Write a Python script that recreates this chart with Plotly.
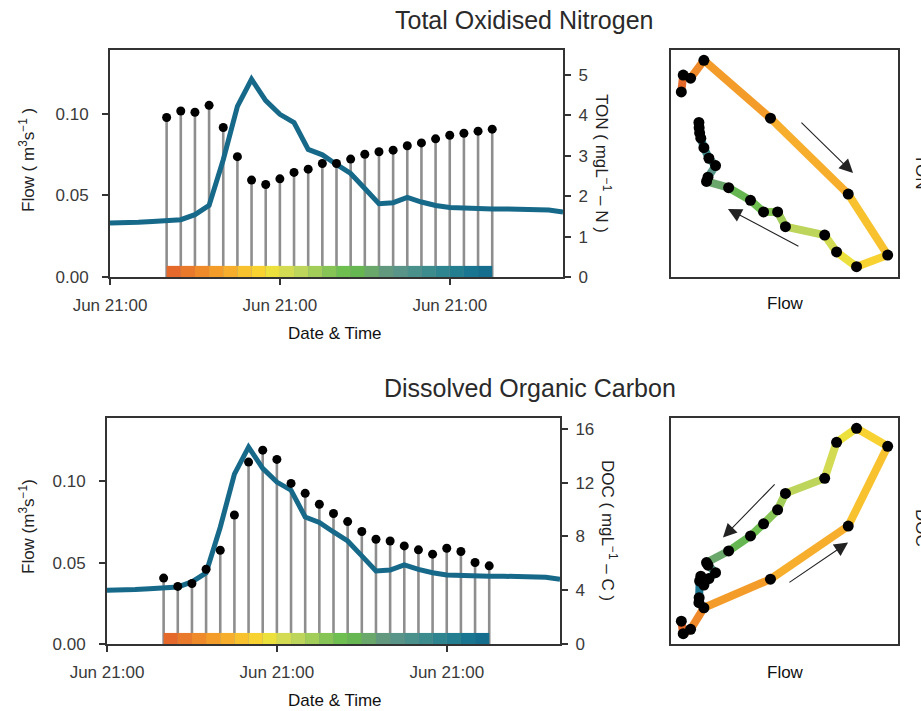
import numpy as np
import pandas as pd
import plotly.graph_objects as go

# ---------------- data ----------------
start = pd.Timestamp("2017-06-14 21:00")
flow_hours = list(range(0, 66, 2))
flow_vals = [0.0330, 0.0330, 0.0335, 0.0340, 0.0343, 0.0351, 0.0382, 0.0438, 0.0718,
             0.1045, 0.1211, 0.1080, 0.0996, 0.0946, 0.0781, 0.0748, 0.0689, 0.0634,
             0.0542, 0.0449, 0.0455, 0.0487, 0.0459, 0.0438, 0.0425, 0.0420, 0.0418,
             0.0417, 0.0417, 0.0417, 0.0416, 0.0410, 0.0398]
sample_hours = list(range(8, 56, 2))
ton_vals = [3.95, 4.11, 4.08, 4.25, 3.70, 2.98, 2.40, 2.29, 2.43, 2.59, 2.67, 2.81,
            2.81, 2.92, 3.04, 3.10, 3.14, 3.25, 3.32, 3.42, 3.51, 3.56, 3.61, 3.66]
doc_vals = [4.90, 4.28, 4.50, 5.56, 6.97, 9.59, 13.52, 14.41, 13.72, 11.94, 11.20, 10.39,
            9.70, 9.10, 8.36, 7.79, 7.66, 7.29, 7.00, 6.68, 7.12, 6.88, 6.06, 5.81]
flow_ticks = [0.0, 0.05, 0.10]
ton_ticks = [0, 1, 2, 3, 4, 5]
doc_ticks = [0, 4, 8, 12, 16]

# segment colours (one per interval between consecutive samples)
seg_cols = ["#E4692A", "#EA7A2B", "#EF8A2A", "#F39C2A", "#F7AE2C", "#F8C22F", "#F7D231",
            "#ECE13C", "#D3DB52", "#BCD55A", "#A2CD58", "#86C555", "#6FBE50", "#66B652",
            "#69A76A", "#62987E", "#589588", "#4A918B", "#3C8B8D", "#2E858F", "#237E8F",
            "#1A7690", "#156E8E"]

# ---------------- derived ----------------
flow_t = [start + pd.Timedelta(hours=h) for h in flow_hours]
samp_t = [start + pd.Timedelta(hours=h) for h in sample_hours]
flow_lookup = dict(zip(flow_hours, flow_vals))
samp_flow = [flow_lookup[h] for h in sample_hours]
x_range = [flow_t[0], flow_t[-1]]

nseg = len(samp_t) - 1
seg_mid = [samp_t[k] + (samp_t[k + 1] - samp_t[k]) / 2 for k in range(nseg)]
seg_w = [(samp_t[k + 1] - samp_t[k]).total_seconds() * 1000 for k in range(nseg)]

FONT = "Liberation Sans, Arial, sans-serif"
W, H = 921, 711
FLOW_COL = "#17698A"
STEM_COL = "#8E8E8E"
AX_COL = "#333333"
TICK_FONT = dict(family=FONT, size=17, color="#3a3a3a")
BAR_H = 0.0068


def px(x):
    return x / W


def py(y):
    return 1 - y / H


fig = go.Figure()


def stems(xs, vals):
    xx, yy = [], []
    for t, v in zip(xs, vals):
        xx += [t, t, None]
        yy += [0, v, None]
    return xx, yy


def add_ts(xa, ybase, yflow, ydot, conc):
    sx, sy = stems(samp_t, conc)
    fig.add_trace(go.Scatter(x=sx, y=sy, mode="lines", xaxis=xa, yaxis=ybase,
                             line=dict(color=STEM_COL, width=2.6), showlegend=False, hoverinfo="skip"))
    fig.add_trace(go.Bar(x=seg_mid, y=[BAR_H] * nseg, width=seg_w, base=0, xaxis=xa, yaxis=yflow,
                         marker=dict(color=seg_cols, line=dict(width=0)), showlegend=False))
    fig.add_trace(go.Scatter(x=flow_t, y=flow_vals, mode="lines", xaxis=xa, yaxis=yflow,
                             line=dict(color=FLOW_COL, width=5), showlegend=False))
    fig.add_trace(go.Scatter(x=samp_t, y=conc, mode="markers", xaxis=xa, yaxis=ydot,
                             marker=dict(color="black", size=9), showlegend=False))


def add_hyst(xa, ya, conc):
    for k in range(nseg):
        fig.add_trace(go.Scatter(x=samp_flow[k:k + 2], y=conc[k:k + 2], mode="lines",
                                 xaxis=xa, yaxis=ya, line=dict(color=seg_cols[k], width=8),
                                 showlegend=False))
    fig.add_trace(go.Scatter(x=samp_flow, y=conc, mode="markers", xaxis=xa, yaxis=ya,
                             marker=dict(color="black", size=11), showlegend=False))


add_ts("x", "y", "y2", "y3", ton_vals)
add_ts("x2", "y4", "y5", "y6", doc_vals)
add_hyst("x3", "y7", ton_vals)
add_hyst("x4", "y8", doc_vals)


def pad(vals, f=0.05):
    lo, hi = min(vals), max(vals)
    d = (hi - lo) * f
    return [lo - d, hi + d]


# domains
top_y = [py(277), py(50)]
bot_y = [py(644), py(418)]
ts_top_x = [px(110), px(563)]
ts_bot_x = [px(107), px(560)]
hy_x = [px(671), px(898)]

xdate = dict(type="date", range=x_range, tickformat="%b %H:%M", dtick=86400000, tick0=start,
             ticks="outside", ticklen=6, tickwidth=2, tickcolor=AX_COL, showline=True, mirror=True,
             linecolor=AX_COL, linewidth=2, showgrid=False, zeroline=False, tickfont=TICK_FONT,
             ticklabelstandoff=6, automargin=False)
yline = dict(ticks="outside", ticklen=6, tickwidth=2, tickcolor=AX_COL, showline=True,
             linecolor=AX_COL, linewidth=2, showgrid=False, zeroline=False, tickfont=TICK_FONT,
             automargin=False)
hy = dict(showline=True, mirror=True, linecolor=AX_COL, linewidth=2, showgrid=False,
          zeroline=False, showticklabels=False, ticks="", automargin=False)

ton_rng = [0, 5.62]
doc_rng = [0, 16.8]
flow_rng = [0, 0.139]

fig.update_layout(
    template="none",
    width=W, height=H, margin=dict(l=0, r=0, t=0, b=0, pad=0), autosize=False,
    paper_bgcolor="white", plot_bgcolor="white", showlegend=False, barmode="overlay",
    font=dict(family=FONT, color="#333"),
    xaxis=dict(domain=ts_top_x, anchor="y", **xdate),
    xaxis2=dict(domain=ts_bot_x, anchor="y4", **xdate),
    yaxis=dict(domain=top_y, anchor="x", side="right", range=ton_rng, tickvals=ton_ticks,
               ticklabelstandoff=4, **yline),
    yaxis2=dict(overlaying="y", anchor="x", side="left", range=flow_rng, tickvals=flow_ticks,
                tickformat=".2f", ticklabelstandoff=10, **yline),
    yaxis3=dict(overlaying="y", anchor="x", side="right", range=ton_rng, visible=False),
    yaxis4=dict(domain=bot_y, anchor="x2", side="right", range=doc_rng, tickvals=doc_ticks,
                ticklabelstandoff=4, **yline),
    yaxis5=dict(overlaying="y4", anchor="x2", side="left", range=flow_rng, tickvals=flow_ticks,
                tickformat=".2f", ticklabelstandoff=10, **yline),
    yaxis6=dict(overlaying="y4", anchor="x2", side="right", range=doc_rng, visible=False),
    xaxis3=dict(domain=hy_x, anchor="y7", range=pad(samp_flow), **hy),
    yaxis7=dict(domain=top_y, anchor="x3", range=pad(ton_vals), **hy),
    xaxis4=dict(domain=hy_x, anchor="y8", range=pad(samp_flow), **hy),
    yaxis8=dict(domain=bot_y, anchor="x4", range=pad(doc_vals), **hy),
)

ann = []


def text(t, x, y, size=17, angle=0, color="#222"):
    ann.append(dict(text=t, x=px(x), y=py(y), xref="paper", yref="paper", showarrow=False,
                    textangle=angle, xanchor="center", yanchor="middle",
                    font=dict(family=FONT, size=size, color=color)))


text("Total Oxidised Nitrogen", 524, 20, size=25, color="#2a2a2a")
text("Dissolved Organic Carbon", 530, 388, size=25, color="#2a2a2a")
text("Flow ( m<sup>3</sup>s<sup>−1</sup> )", 27, 160, angle=-90)
text("Flow (m<sup>3</sup>s<sup>−1</sup>)", 27, 527, angle=-90)
text("Date & Time", 335, 333, color="#111")
text("Date & Time", 335, 700, color="#111")
text("TON ( mgL<sup>−1</sup> – N )", 603, 163, angle=90)
text("DOC ( mgL<sup>−1</sup> – C )", 609, 530, angle=90)
text("Flow", 785, 304, color="#111")
text("Flow", 785, 672, color="#111")
text("TON", 922, 172, angle=90)
text("DOC", 922, 528, angle=90)


def arrow(xa, ya, tail, head):
    ann.append(dict(text="", showarrow=True, xref=xa + " domain", yref=ya + " domain",
                    axref=xa + " domain", ayref=ya + " domain",
                    x=head[0], y=head[1], ax=tail[0], ay=tail[1],
                    arrowhead=2, arrowsize=2.5, arrowwidth=1.1, arrowcolor="#222", standoff=0))


arrow("x3", "y7", (0.568, 0.687), (0.802, 0.458))
arrow("x3", "y7", (0.568, 0.132), (0.251, 0.300))
arrow("x4", "y8", (0.463, 0.713), (0.229, 0.471))
arrow("x4", "y8", (0.515, 0.268), (0.780, 0.449))

fig.update_layout(annotations=ann)
fig.write_html("out.html")
